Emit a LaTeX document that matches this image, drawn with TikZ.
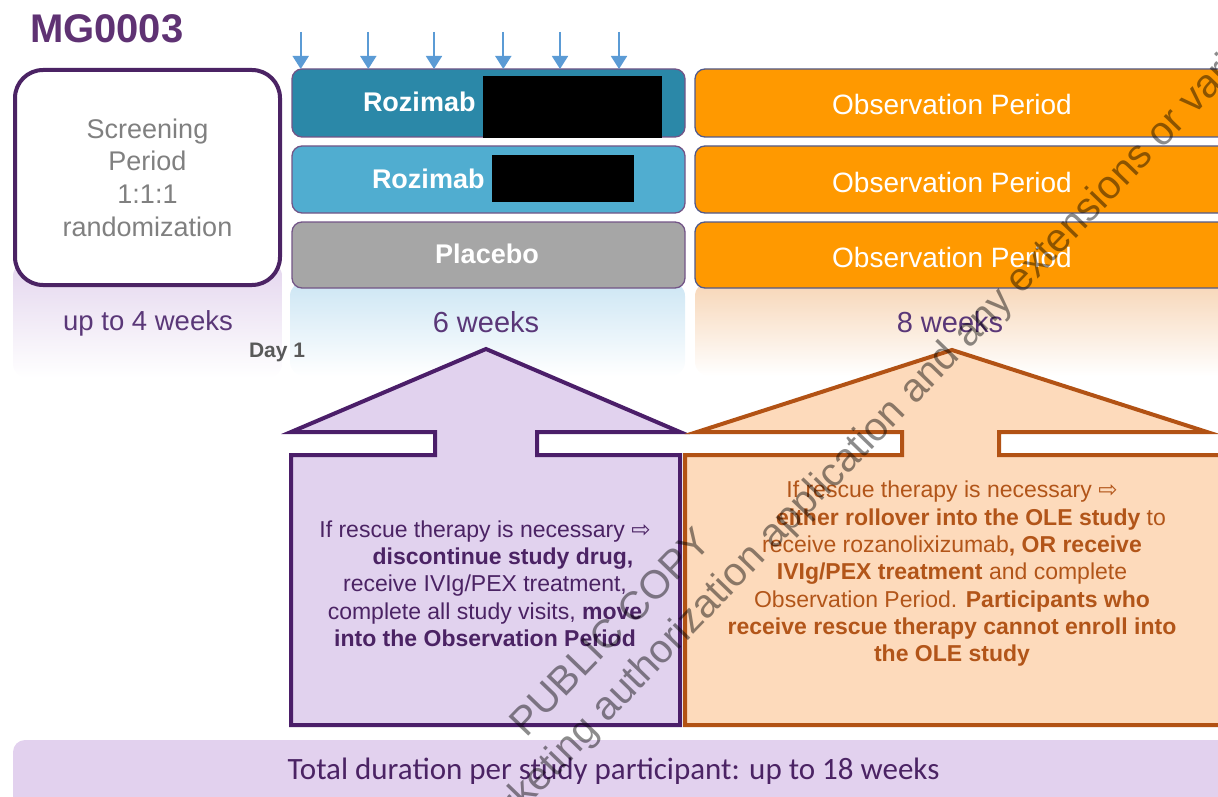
\documentclass[tikz,border=0pt]{standalone}
\usepackage{fontspec}
\setmainfont{Liberation Sans}
\newfontfamily\carlito{Carlito}
\newfontfamily\djv{DejaVu Sans}
\usetikzlibrary{arrows.meta}
\definecolor{ttl}{RGB}{95,50,115}
\definecolor{scrb}{RGB}{75,35,100}
\definecolor{scrt}{RGB}{128,128,128}
\definecolor{rzA}{RGB}{43,136,168}
\definecolor{rzB}{RGB}{80,173,208}
\definecolor{plc}{RGB}{166,166,166}
\definecolor{barb}{RGB}{115,85,135}
\definecolor{obs}{RGB}{255,153,0}
\definecolor{obsb}{RGB}{80,90,140}
\definecolor{arr}{RGB}{91,155,213}
\definecolor{pfill}{RGB}{225,210,238}
\definecolor{pline}{RGB}{75,30,105}
\definecolor{ofill}{RGB}{253,218,187}
\definecolor{oline}{RGB}{178,82,20}
\definecolor{otext}{RGB}{178,85,25}
\definecolor{ptext}{RGB}{75,35,100}
\definecolor{wk}{RGB}{90,55,120}
\definecolor{bbar}{RGB}{226,209,238}
\definecolor{gpur}{RGB}{228,214,238}
\definecolor{gblu}{RGB}{205,230,244}
\definecolor{gora}{RGB}{247,214,183}
\definecolor{dayc}{RGB}{89,89,89}
\begin{document}
\begin{tikzpicture}[x=1pt,y=-1pt,
  every node/.style={inner sep=0pt,outer sep=0pt},
  armbar/.style={draw=barb,line width=1.3pt,rounded corners=10pt,minimum width=393pt},
  obsbar/.style={draw=obsb,fill=obs,line width=1.3pt,rounded corners=10pt,minimum width=545pt},
  armtxt/.style={text=white,font=\fontsize{27}{30}\selectfont\bfseries},
  obstxt/.style={text=white,font=\fontsize{28}{32}\selectfont,anchor=base},
  wklbl/.style={text=wk,font=\fontsize{29}{32}\selectfont,anchor=base},
  dose/.style={-{Triangle[width=16pt,length=13pt]},draw=arr,line width=1.8pt},
  ptx/.style={text=ptext,anchor=base,font=\fontsize{23}{27}\selectfont},
  otx/.style={text=otext,anchor=base,font=\fontsize{23}{27}\selectfont},
  wmark/.style={text=black,text opacity=0.45,font=\fontsize{40}{44}\selectfont,rotate=46,anchor=base west}
]
\useasboundingbox (0,0) rectangle (1218,797);
\clip (0,0) rectangle (1218,797);

% faded backgrounds under the columns
\shade[top color=gpur,bottom color=white,rounded corners=14pt] (13,262) rectangle (282,378);
\shade[top color=gblu,bottom color=white,rounded corners=14pt] (290,282) rectangle (685,376);
\shade[top color=gora,bottom color=white,rounded corners=14pt] (695,282) rectangle (1240,376);

% title
\node[anchor=base west,text=ttl,font=\fontsize{40}{44}\selectfont\bfseries] (title) at (30,43) {MG0003};

% screening box
\node[draw=scrb,fill=white,line width=4pt,rounded corners=28pt,minimum width=265pt,minimum height=215pt,
      align=center,text=scrt,font=\fontsize{27}{32.7}\selectfont] (scr) at (147.5,177.5)
      {Screening\\Period\\1:1:1\\randomization};

% treatment arms
\node[armbar,fill=rzA,minimum height=68pt] (r1) at (488.5,103) {};
\node[armbar,fill=rzB,minimum height=67pt] (r2) at (488.5,179.5) {};
\node[armbar,fill=plc,minimum height=66pt] (r3) at (488.5,255) {};
\node[armtxt,anchor=base west] (r1t) at (363,112) {Rozimab};
\node[armtxt,anchor=base west] (r2t) at (372,188) {Rozimab};
\node[armtxt,anchor=base] (r3t) at (487,263) {Placebo};
\fill[black] (483,76) rectangle (662,138);
\fill[black] (492,155) rectangle (634,202);

% observation bars
\node[obsbar,minimum height=68pt] (o1) at (967.5,103) {};
\node[obsbar,minimum height=67pt] (o2) at (967.5,179.5) {};
\node[obsbar,minimum height=66pt] (o3) at (967.5,255) {};
\node[obstxt] (o1t) at (952,115) {Observation Period};
\node[obstxt] (o2t) at (952,192) {Observation Period};
\node[obstxt] (o3t) at (952,267) {Observation Period};

% dosing arrows
\foreach \i/\xx in {1/300.7,2/368.3,3/434,4/503.3,5/560,6/619}{
  \coordinate (d\i) at (\xx,32);
  \draw[dose] (d\i) -- (d\i |- r1.north);
}

% duration labels
\node[wklbl,font=\fontsize{27.5}{32}\selectfont] (w4) at (148,330) {up to 4 weeks};
\node[wklbl] (w6) at (486,332) {6 weeks};
\node[wklbl] (w8) at (950,332) {8 weeks};
\node[anchor=base west,text=dayc,font=\fontsize{21}{24}\selectfont\bfseries] (day) at (249,357) {Day 1};

% purple callout
\draw[fill=pfill,draw=pline,line width=4pt,line join=miter]
  (291,455) -- (435,455) -- (435,432) -- (291,432) -- (486,349) -- (680,432)
  -- (537,432) -- (537,455) -- (680,455) -- (680,725) -- (291,725) -- cycle;
% orange callout
\draw[fill=ofill,draw=oline,line width=4pt,line join=miter]
  (685,455) -- (902,455) -- (902,432) -- (697,432) -- (952,350) -- (1207,432)
  -- (999,432) -- (999,455) -- (1240,455) -- (1240,725) -- (685,725) -- cycle;

\node[ptx] (p1) at (485,537) {If rescue therapy is necessary {\djv ⇨}};
\node[ptx] (p2) at (485,564) {\hspace*{36pt}\textbf{discontinue study drug,}};
\node[ptx] (p3) at (485,591) {receive IVIg/PEX treatment,};
\node[ptx] (p4) at (485,619) {complete all study visits, \textbf{move}};
\node[ptx] (p5) at (485,646) {\textbf{into the Observation Period}};

\node[otx] (q1) at (952,497) {If rescue therapy is necessary {\djv ⇨}};
\node[otx] (q2) at (952,525) {\hspace*{38pt}\textbf{either rollover into the OLE study} to};
\node[otx] (q3) at (952,552) {receive rozanolixizumab\textbf{, OR receive}};
\node[otx] (q4) at (952,579) {\textbf{IVIg/PEX treatment} and complete};
\node[otx] (q5) at (952,607) {Observation Period. \textbf{Participants who}};
\node[otx] (q6) at (952,634) {\textbf{receive rescue therapy cannot enroll into}};
\node[otx] (q7) at (952,661) {\textbf{the OLE study}};

% total duration bar
\fill[bbar,rounded corners=12pt] (13,740) rectangle (1240,812);
\node[anchor=base,text=ptext,font=\carlito\fontsize{31}{34}\selectfont] (tot) at (613.5,779)
  {Total duration per study participant: up to 18 weeks};

% watermark
\node[wmark] (wm1) at (526,738) {PUBLIC COPY};
\node[wmark] (wm2) at (478,858) {marketing authorization application and any extensions or variations thereof};
\end{tikzpicture}
\end{document}
